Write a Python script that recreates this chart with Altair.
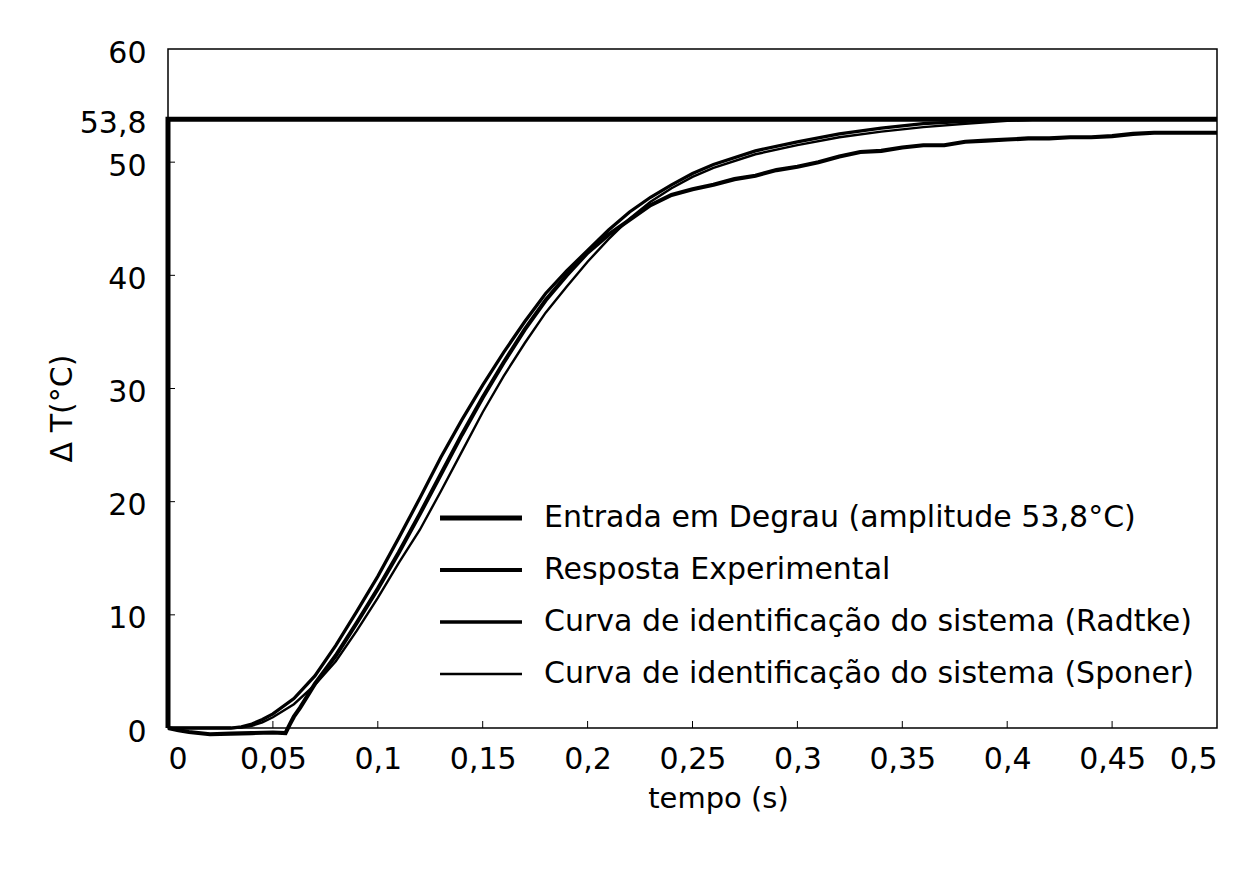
import altair as alt
import pandas as pd

# ---- data ----
names = [
    "Entrada em Degrau (amplitude 53,8°C)",
    "Resposta Experimental",
    "Curva de identificação do sistema (Radtke)",
    "Curva de identificação do sistema (Sponer)",
]

t_step = [0.0, 0.0, 0.5]
v_step = [0.0, 53.8, 53.8]

t_exp = [0.0, 0.005, 0.01, 0.02, 0.03, 0.04, 0.05, 0.056, 0.058, 0.06, 0.063, 0.067,
         0.07, 0.08, 0.09, 0.10, 0.11, 0.12, 0.13, 0.14, 0.15, 0.16, 0.17, 0.18, 0.19,
         0.20, 0.21, 0.22, 0.23, 0.24, 0.25, 0.26, 0.27, 0.28, 0.29, 0.30, 0.31, 0.32,
         0.33, 0.34, 0.35, 0.36, 0.37, 0.38, 0.39, 0.40, 0.41, 0.42, 0.43, 0.44, 0.45,
         0.46, 0.47, 0.48, 0.49, 0.50]
v_exp = [0.0, -0.2, -0.35, -0.55, -0.5, -0.45, -0.4, -0.45, 0.3, 1.0, 1.8, 3.0,
         3.9, 6.4, 9.3, 12.3, 15.5, 18.9, 22.4, 25.9, 29.2, 32.3, 35.2, 37.8, 40.0,
         42.0, 43.6, 44.9, 46.2, 47.1, 47.6, 48.0, 48.5, 48.8, 49.3, 49.6, 50.0, 50.5,
         50.9, 51.0, 51.3, 51.5, 51.5, 51.8, 51.9, 52.0, 52.1, 52.1, 52.2, 52.2, 52.3,
         52.5, 52.6, 52.6, 52.6, 52.6]

t_mod = [0.0, 0.03, 0.035, 0.04, 0.045, 0.05, 0.06, 0.07, 0.08, 0.09, 0.10, 0.11,
         0.12, 0.13, 0.14, 0.15, 0.16, 0.17, 0.18, 0.19, 0.20, 0.21, 0.22, 0.23, 0.24,
         0.25, 0.26, 0.28, 0.30, 0.32, 0.34, 0.36, 0.38, 0.40, 0.42, 0.45, 0.50]
v_radtke = [0.0, 0.0, 0.1, 0.35, 0.75, 1.25, 2.6, 4.6, 7.3, 10.3, 13.4, 16.8,
            20.3, 23.9, 27.2, 30.3, 33.2, 35.9, 38.4, 40.4, 42.2, 44.0, 45.6, 46.9, 48.0,
            49.0, 49.8, 51.0, 51.8, 52.5, 53.0, 53.4, 53.6, 53.75, 53.8, 53.8, 53.8]
v_sponer = [0.0, 0.0, 0.05, 0.2, 0.5, 0.95, 2.1, 3.8, 5.9, 8.6, 11.5, 14.6,
            17.5, 20.9, 24.4, 27.9, 31.1, 34.0, 36.7, 39.0, 41.2, 43.2, 45.0, 46.5, 47.7,
            48.7, 49.5, 50.7, 51.5, 52.2, 52.7, 53.1, 53.4, 53.65, 53.8, 53.8, 53.8]

y_ticks = [0, 10, 20, 30, 40, 50, 53.8, 60]
y_inner_ticks = [10, 20, 30, 40, 50]
x_ticks = [0, 0.05, 0.1, 0.15, 0.2, 0.25, 0.3, 0.35, 0.4, 0.45, 0.5]
x_inner_ticks = [0.05, 0.1, 0.15, 0.2, 0.25, 0.3, 0.35, 0.4, 0.45]

# ---- build table ----
rows = []
for i, (t, v) in enumerate(zip(t_step, v_step)):
    rows.append({"series": names[0], "t": t, "v": v, "idx": i})
for i, (t, v) in enumerate(zip(t_exp, v_exp)):
    rows.append({"series": names[1], "t": t, "v": v, "idx": i})
for i, (t, v) in enumerate(zip(t_mod, v_radtke)):
    rows.append({"series": names[2], "t": t, "v": v, "idx": i})
for i, (t, v) in enumerate(zip(t_mod, v_sponer)):
    rows.append({"series": names[3], "t": t, "v": v, "idx": i})
df = pd.DataFrame(rows)

FONT = "DejaVu Sans"
W, H = 1049, 679

xscale = alt.Scale(domain=[0, 0.5], nice=False, zero=False)
yscale = alt.Scale(domain=[0, 60], nice=False, zero=False)

# wide, flat custom symbol: path spans 8 units, scaled by sqrt(size)/2
legend = alt.Legend(
    title=None, orient="none", legendX=298, legendY=454,
    symbolType="M-4,0H4", symbolSize=420, labelFont=FONT, labelFontSize=30,
    labelColor="black", labelOffset=48, labelLimit=1000, padding=0,
    rowPadding=22,
)

lines = alt.Chart(df).mark_line().encode(
    x=alt.X("t:Q", scale=xscale, axis=alt.Axis(
        values=x_ticks, labelExpr="replace(toString(datum.value), '.', ',')",
        title="tempo (s)", titleX=550, titleY=79, titleBaseline="alphabetic",
        labelPadding=16, titleFontSize=29)),
    y=alt.Y("v:Q", scale=yscale, axis=alt.Axis(
        values=y_ticks, labelExpr="replace(toString(datum.value), '.', ',')",
        title="Δ T(°C)", titleX=-106, titleY=359, titleAngle=-90,
        titleBaseline="middle", titleAlign="center", labelPadding=22,
        labelOffset=4, titleFontSize=30)),
    color=alt.Color("series:N", scale=alt.Scale(domain=names, range=["black"] * 4),
                    legend=legend),
    strokeWidth=alt.StrokeWidth("series:N",
                                scale=alt.Scale(domain=names, range=[5, 2.4, 1.4, 1.4]),
                                legend=legend),
    detail="series:N",
    order="idx:Q",
)

ytick_df = pd.DataFrame({"v": y_inner_ticks})
xtick_df = pd.DataFrame({"t": x_inner_ticks})

yt = alt.Chart(ytick_df).mark_rule(color="black", strokeWidth=1).encode(
    y=alt.Y("v:Q", scale=yscale), x=alt.value(0), x2=alt.value(7))
xt = alt.Chart(xtick_df).mark_rule(color="black", strokeWidth=1).encode(
    x=alt.X("t:Q", scale=xscale), y=alt.value(H), y2=alt.value(H - 7))

chart = alt.layer(lines, yt, xt).properties(
    width=W, height=H,
    padding={"left": 168, "top": 49, "right": 43, "bottom": 149},
    autosize=alt.AutoSizeParams(type="none"),
    background="white",
).configure_view(
    stroke="black", strokeWidth=1.5
).configure_axis(
    domain=False, ticks=False, grid=False,
    labelFont=FONT, labelFontSize=30, labelColor="black",
    titleFont=FONT, titleColor="black", titleFontWeight="normal",
)

chart.save("out.html", embed_options={"renderer": "svg", "actions": False})
